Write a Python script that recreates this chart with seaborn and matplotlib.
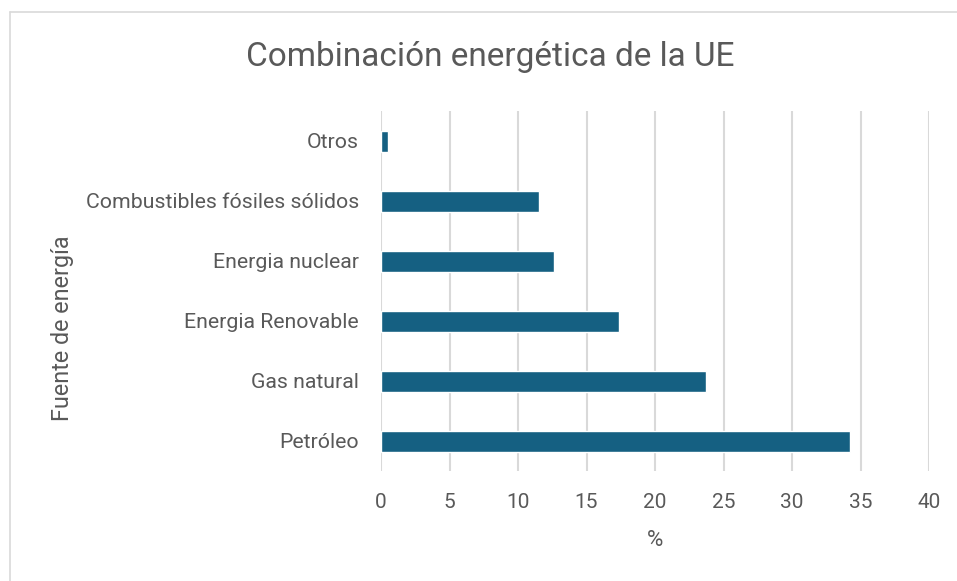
import matplotlib
matplotlib.use("Agg")
import matplotlib.pyplot as plt
import seaborn as sns
import pandas as pd
from matplotlib.lines import Line2D

categories = ["Otros", "Combustibles fósiles sólidos", "Energia nuclear",
              "Energia Renovable", "Gas natural", "Petróleo"]
values = [0.5, 11.5, 12.6, 17.4, 23.7, 34.2]
x_ticks = [0, 5, 10, 15, 20, 25, 30, 35, 40]

title = "Combinación energética de la UE"
xlabel = "%"
ylabel = "Fuente de energía"

df = pd.DataFrame({"fuente": categories, "valor": values})

sns.set_theme(style="white")
plt.rcParams["font.family"] = ["Roboto", "DejaVu Sans"]

W, H = 957, 581
fig = plt.figure(figsize=(W / 100, H / 100), dpi=100)
fig.patch.set_facecolor("white")

left, right, top, bottom = 381, 929, 111, 471
ax = fig.add_axes([left / W, 1 - bottom / H, (right - left) / W, (bottom - top) / H])

sns.barplot(data=df, x="valor", y="fuente", order=categories, color="#156082",
            saturation=1, width=0.35, ax=ax, zorder=3)

ax.set_xlim(0, 40)
ax.set_xticks(x_ticks)
ax.set_xticklabels([str(t) for t in x_ticks])
ax.grid(axis="x", color="#D9D9D9", linewidth=1.5, zorder=0)
ax.grid(axis="y", visible=False)
for s in ax.spines.values():
    s.set_visible(False)
ax.tick_params(axis="both", length=0, colors="#595959")
ax.tick_params(axis="y", pad=16, labelsize=15.3)
ax.tick_params(axis="x", pad=16, labelsize=15)
ax.set_xlabel("")
ax.set_ylabel("")
ax.set_axisbelow(True)

fig.text(655 / W, 1 - 540 / H, xlabel, ha="center", va="center", fontsize=16, color="#595959")
fig.text(62 / W, 1 - 328 / H, ylabel, ha="center", va="center", rotation=90,
         fontsize=16.8, color="#595959")
fig.text(490 / W, 1 - 57 / H, title, ha="center", va="center", fontsize=24, color="#595959")

# chart border (left and top edges visible)
fig.add_artist(Line2D([9.5 / W, 9.5 / W], [0, 1 - 12 / H], transform=fig.transFigure,
                      color="#D9D9D9", linewidth=1.2))
fig.add_artist(Line2D([9.5 / W, 1], [1 - 12 / H, 1 - 12 / H], transform=fig.transFigure,
                      color="#D9D9D9", linewidth=1.2))

fig.savefig("out.png", dpi=100, facecolor="white")
